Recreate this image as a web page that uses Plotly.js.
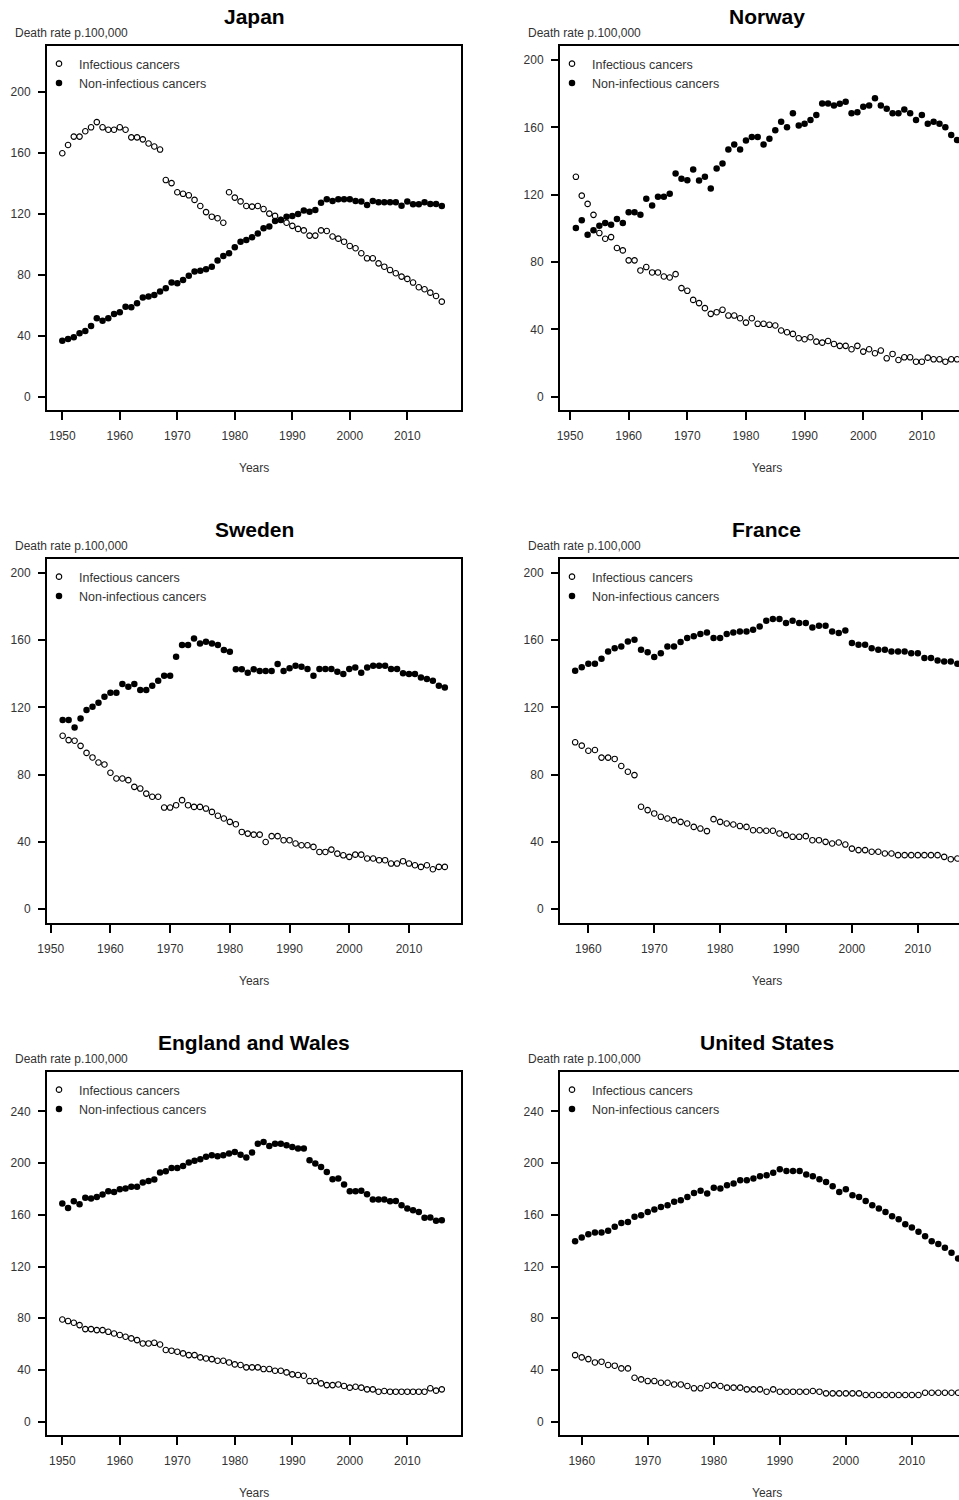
<!DOCTYPE html>
<html>
<head>
<meta charset="utf-8">
<script src="https://cdn.plot.ly/plotly-3.0.1.min.js"></script>
<style>
html, body { margin: 0; padding: 0; overflow: hidden; background: #fff; width: 959px; height: 1500px; }
#chart { width: 1000px; height: 1500px; }
</style>
</head>
<body>
<div id="chart"></div>
<script>
// ---------- DATA ----------
const years1950_2016 = [1950,1951,1952,1953,1954,1955,1956,1957,1958,1959,1960,1961,1962,1963,1964,1965,1966,1967,1968,1969,1970,1971,1972,1973,1974,1975,1976,1977,1978,1979,1980,1981,1982,1983,1984,1985,1986,1987,1988,1989,1990,1991,1992,1993,1994,1995,1996,1997,1998,1999,2000,2001,2002,2003,2004,2005,2006,2007,2008,2009,2010,2011,2012,2013,2014,2015,2016];
const years1951_2016 = [1951,1952,1953,1954,1955,1956,1957,1958,1959,1960,1961,1962,1963,1964,1965,1966,1967,1968,1969,1970,1971,1972,1973,1974,1975,1976,1977,1978,1979,1980,1981,1982,1983,1984,1985,1986,1987,1988,1989,1990,1991,1992,1993,1994,1995,1996,1997,1998,1999,2000,2001,2002,2003,2004,2005,2006,2007,2008,2009,2010,2011,2012,2013,2014,2015,2016];
const years1952_2016 = [1952,1953,1954,1955,1956,1957,1958,1959,1960,1961,1962,1963,1964,1965,1966,1967,1968,1969,1970,1971,1972,1973,1974,1975,1976,1977,1978,1979,1980,1981,1982,1983,1984,1985,1986,1987,1988,1989,1990,1991,1992,1993,1994,1995,1996,1997,1998,1999,2000,2001,2002,2003,2004,2005,2006,2007,2008,2009,2010,2011,2012,2013,2014,2015,2016];
const years1958_2016 = [1958,1959,1960,1961,1962,1963,1964,1965,1966,1967,1968,1969,1970,1971,1972,1973,1974,1975,1976,1977,1978,1979,1980,1981,1982,1983,1984,1985,1986,1987,1988,1989,1990,1991,1992,1993,1994,1995,1996,1997,1998,1999,2000,2001,2002,2003,2004,2005,2006,2007,2008,2009,2010,2011,2012,2013,2014,2015,2016];
const years1959_2017 = [1959,1960,1961,1962,1963,1964,1965,1966,1967,1968,1969,1970,1971,1972,1973,1974,1975,1976,1977,1978,1979,1980,1981,1982,1983,1984,1985,1986,1987,1988,1989,1990,1991,1992,1993,1994,1995,1996,1997,1998,1999,2000,2001,2002,2003,2004,2005,2006,2007,2008,2009,2010,2011,2012,2013,2014,2015,2016,2017];

const japanInf = [159.6,165,170.5,170.5,174,176.6,180,176.6,175,175,176.6,175,170,170,168.7,166,164,162,142,140,134,133,132,129,125,121,118,117,114,134,130.5,128,125,124.6,125,123,120,118.5,116,114,112,110,109,105.6,105.6,109,108.6,105,103.6,101.6,98.8,97.3,94,90.7,90.7,87.4,85.2,83,80.9,78.7,77.2,74.8,71.7,70.4,68.2,66,62.3];
const japanNon = [36.7,37.8,39,41.5,43,46.3,51.4,49.8,51.4,54.2,55.3,59,58.6,61.2,65,65.6,66.7,68.9,71,74.8,74.3,76.5,79.3,82,82.6,83.5,85.2,89.2,92.2,94,98,101.6,102.7,104.5,107,110.4,111.5,115.2,115.8,118,118.5,119.8,122,121.3,122.4,127.2,129.4,128.3,129.4,129.4,129.4,128.3,127.9,125.7,128.3,127.4,127.4,127.4,127.4,125.2,127.9,126.1,126.1,127.4,126.3,126.3,125];

const norwayInf = [130.6,119.4,114.5,108,97.2,93.8,94.8,88.3,86.9,81,81,75,77,73.8,73.8,71.4,70.8,72.8,64.5,62.9,57.5,55.6,52.6,49.2,50.2,51.6,48.2,48.2,46.6,44,46.6,43.3,43.3,42.7,42.3,39.3,38.3,37.3,34.7,34.1,35.3,32.7,32.1,33.1,31.3,30.2,30.2,28.2,30.2,26.8,28.2,25.8,27.4,22.8,25.4,21.8,23.4,23.4,20.8,20.8,23.2,22.2,22.2,20.8,22.2,22.2];
const norwayNon = [100.2,104.8,96.2,98.8,101.6,103.2,102.2,105.6,103.2,109.5,109.5,108,117.5,113.5,118.7,118.7,120.6,132.5,129.4,128.6,134.9,128.4,130.6,123.6,135.5,138.5,146.8,149.8,146.8,152.2,154.2,154.2,149.8,153.2,158.3,163.3,160.1,168.3,161.1,162.1,164.3,167.3,174.2,174.2,173,174,175.2,168.3,169,172.2,173,177.2,173,171,168.3,168.3,170.6,168.3,164.3,167.3,162.1,163.3,162.1,160.1,155.4,152.4];

const swedenInf = [103.2,100.6,100.2,97.2,93,90.3,87.3,86.1,81.2,77.8,77.8,76.8,72.8,71.8,68.8,66.9,66.9,60.5,60.5,61.9,64.9,61.9,60.9,60.9,59.9,57.9,55.6,54,52,50.6,46,45,44.4,44.4,40,43.5,43.5,41.1,41.1,39.1,38.1,38.1,37.1,34.1,34.1,35.5,33.1,32.1,31.2,32.5,32.5,30.2,30.2,29.2,29.2,27.2,27.2,28.6,27.2,26.2,25.2,26.2,23.8,25.2,25.2];
const swedenNon = [112.5,112.5,108.1,113.5,118.5,120.4,122.8,126.4,128.8,128.8,133.9,132.3,133.9,130.4,130.4,132.9,135.9,138.9,138.9,150.2,157.1,157.1,161.1,158.1,159.1,158.1,157.1,154.2,153.2,142.7,142.7,140.7,142.7,141.7,141.7,141.7,145.8,141.7,143.3,144.8,144.2,142.9,138.9,142.9,142.9,142.9,141.3,139.9,142.9,143.8,140.7,143.8,144.8,144.8,144.8,142.9,142.9,140.3,139.9,139.9,137.9,136.9,135.9,132.9,131.9];

const franceInf = [99.3,97.3,94.3,94.7,90.2,90.2,89.4,85.2,81.8,79.8,61,59,57,55,54,53,52,51,49,48,46.5,53.6,52,51,50.4,49.5,49,47,47,46.7,46.7,45.1,44.1,43.1,43.1,43.5,41.1,41.1,40.1,39.1,39.7,38.5,36.1,35.2,35.2,34.2,34.2,33.2,33.2,32.2,32.2,32.2,32.2,32.2,32.2,32.2,31.2,29.8,30.2];
const franceNon = [141.8,144,146,146,149,153.3,155.3,156.3,159.3,160.3,154.3,152.9,150,152.3,156.3,156.3,158.9,161.3,162.3,163.7,164.6,161.3,161.3,163.7,164.6,165.2,165.2,166.2,168.2,171.6,172.6,172.6,170.2,171.6,170.2,170.2,167.6,168.6,168.6,165.2,164.3,165.8,158.3,157.3,157.3,155.3,154.3,154.3,153.3,153.3,153.3,152.3,152.3,149.4,149.4,148,147.4,147.4,146];

const englandInf = [79,77.8,76.5,74.7,71.6,71.6,70.8,70.8,69.5,68.2,67,65.7,64.4,63.1,60.5,60.5,61,59.7,55.4,54.9,54.1,52.8,51.5,51.5,49.7,48.9,48.4,47.1,47.1,45.8,44.3,43.8,42,42,42,40.7,40.7,39.4,39.4,38.1,36.6,36.1,35.5,31.4,31.4,29.6,28.3,28.3,28.8,27.6,26.3,27,26.3,25,25,23.2,23.7,23.2,23.2,23.2,23.2,23.2,23.2,23.2,25.8,24,25];
const englandNon = [168.7,165.3,170.5,168.2,173.1,172.5,173.8,175.6,178.2,177.7,179.8,180.3,181.6,181.6,184.9,186.2,187.2,192.6,193.7,196.2,196.2,197.8,200.4,201.7,203,204.8,206,205.3,206,207.3,208.6,206.5,204.2,208.1,215,216.3,213.2,215,215,213.8,212.5,211.2,211.2,202.2,199.6,197,193.1,187.5,188,183.4,178.2,178.2,178.5,175.9,171.8,171.8,171.8,170.5,170.7,167.4,164.8,163.5,162.2,157.6,157.9,155.3,155.8];

const usInf = [51.5,49.7,48.4,45.8,46.4,43.8,43.3,41.2,41.2,34,32.7,31.4,31.4,30.1,30.1,28.8,28.8,27.6,25.8,25.8,27.8,28.3,27.6,26.3,26.3,26.3,25,25,25,23.2,25,23.2,23.2,23.2,23.2,23.2,23.7,23.2,21.9,21.9,21.9,21.9,21.9,21.9,20.6,20.6,20.6,20.6,20.6,20.6,20.6,20.6,20.6,22.4,22.4,22.4,22.4,22.4,22.4];
const usNon = [139.6,142.4,145,146.3,146.3,147.6,150.7,153.7,154.5,158.4,159.7,162.2,164,166.1,167.4,170,171.3,173.8,176.9,178.5,176.4,180.8,180.3,182.8,184.1,186.7,186.7,188,189.8,190.6,192.4,195.2,193.9,193.9,193.9,191.1,189.8,187.5,185.4,182.1,177.7,179.8,175.1,173.8,170.7,167.4,164.8,162.2,158.9,156.6,152.7,150.1,146.8,143.4,139.6,137.3,134.4,130.6,126.2];

const xTicksFrom1950 = [1950,1960,1970,1980,1990,2000,2010];
const xTicksFrom1960 = [1960,1970,1980,1990,2000,2010];
const yTicks200 = [0,40,80,120,160,200];
const yTicks240 = [0,40,80,120,160,200,240];

const seriesNames = ['Infectious cancers', 'Non-infectious cancers'];
const yLabel = 'Death rate p.100,000';
const xLabel = 'Years';

// ---------- LAYOUT GEOMETRY ----------
const W = 1000, H = 1500;
const cols = [[47, 461], [560, 973.5]];
const rows = [[46, 410], [559, 923], [1072, 1435]];

const panels = [
  {title: 'Japan',             x: years1950_2016, inf: japanInf,   non: japanNon,   c: 0, r: 0, xr: [1947.34, 2019.34], yr: [-8.75, 229.9], xt: xTicksFrom1950, yt: yTicks200},
  {title: 'Norway',            x: years1951_2016, inf: norwayInf,  non: norwayNon,  c: 1, r: 0, xr: [1948.29, 2018.8],  yr: [-7.9, 208.3],  xt: xTicksFrom1950, yt: yTicks200},
  {title: 'Sweden',            x: years1952_2016, inf: swedenInf,  non: swedenNon,  c: 0, r: 1, xr: [1949.38, 2018.71], yr: [-8.15, 208.3], xt: xTicksFrom1950, yt: yTicks200},
  {title: 'France',            x: years1958_2016, inf: franceInf,  non: franceNon,  c: 1, r: 1, xr: [1955.7, 2018.45],  yr: [-8.15, 208.3], xt: xTicksFrom1960, yt: yTicks200},
  {title: 'England and Wales', x: years1950_2016, inf: englandInf, non: englandNon, c: 0, r: 2, xr: [1947.34, 2019.34], yr: [-10.3, 270.4], xt: xTicksFrom1950, yt: yTicks240},
  {title: 'United States',     x: years1959_2017, inf: usInf,      non: usNon,      c: 1, r: 2, xr: [1956.71, 2019.33], yr: [-10.3, 270.4], xt: xTicksFrom1960, yt: yTicks240}
];

const FONT = 'Liberation Sans, Arial, Helvetica, sans-serif';
const TXT = '#333333';

const traces = [];
const layout = {
  width: W, height: H,
  margin: {l: 0, r: 0, t: 0, b: 0},
  paper_bgcolor: '#ffffff', plot_bgcolor: '#ffffff',
  font: {family: FONT, size: 12, color: TXT},
  showlegend: true,
  annotations: []
};

panels.forEach((p, i) => {
  const n = i + 1;
  const xa = 'xaxis' + (n === 1 ? '' : n), ya = 'yaxis' + (n === 1 ? '' : n);
  const xref = 'x' + (n === 1 ? '' : n), yref = 'y' + (n === 1 ? '' : n);
  const lg = 'legend' + (n === 1 ? '' : n);
  const [L, R] = cols[p.c];
  const [T, B] = rows[p.r];

  layout[xa] = {
    domain: [L / W, R / W], range: p.xr, anchor: yref,
    showgrid: false, zeroline: false,
    showline: true, linecolor: '#000', linewidth: 2, mirror: true,
    ticks: 'outside', ticklen: 8, tickwidth: 1.5, tickcolor: '#000',
    tickmode: 'array', tickvals: p.xt, ticktext: p.xt.map(String),
    ticklabelstandoff: 6,
    tickfont: {family: FONT, size: 12, color: TXT}
  };
  layout[ya] = {
    domain: [1 - B / H, 1 - T / H], range: p.yr, anchor: xref,
    showgrid: false, zeroline: false,
    showline: true, linecolor: '#000', linewidth: 2, mirror: true,
    ticks: 'outside', ticklen: 7, tickwidth: 1.5, tickcolor: '#000',
    tickmode: 'array', tickvals: p.yt, ticktext: p.yt.map(String),
    ticklabelstandoff: 5,
    tickfont: {family: FONT, size: 12, color: TXT}
  };
  layout[lg] = {
    x: (L - 8) / W, y: 1 - (T + 3) / H, xanchor: 'left', yanchor: 'top',
    xref: 'paper', yref: 'paper',
    bgcolor: 'rgba(0,0,0,0)', borderwidth: 0,
    font: {family: FONT, size: 12.5, color: TXT},
    itemwidth: 30, tracegroupgap: 0, itemclick: false, itemdoubleclick: false
  };

  traces.push({
    type: 'scatter', mode: 'markers', x: p.x, y: p.inf,
    xaxis: xref, yaxis: yref, name: seriesNames[0], legend: lg,
    marker: {symbol: 'circle-open', size: 5.5, color: '#000', line: {width: 1.1, color: '#000'}},
    hoverinfo: 'x+y'
  });
  traces.push({
    type: 'scatter', mode: 'markers', x: p.x, y: p.non,
    xaxis: xref, yaxis: yref, name: seriesNames[1], legend: lg,
    marker: {symbol: 'circle', size: 6.5, color: '#000', line: {width: 0}},
    hoverinfo: 'x+y'
  });

  const cx = (L + R) / 2;
  layout.annotations.push({
    text: p.title, xref: 'paper', yref: 'paper', x: cx / W, y: 1 - (T - 30) / H,
    xanchor: 'center', yanchor: 'middle', showarrow: false,
    font: {family: FONT, size: 21, color: '#000', weight: 'bold'}
  });
  layout.annotations.push({
    text: yLabel, xref: 'paper', yref: 'paper', x: (L - 34) / W, y: 1 - (T - 13) / H,
    xanchor: 'left', yanchor: 'middle', showarrow: false,
    font: {family: FONT, size: 12, color: TXT}
  });
  layout.annotations.push({
    text: xLabel, xref: 'paper', yref: 'paper', x: cx / W, y: 1 - (B + 58) / H,
    xanchor: 'center', yanchor: 'middle', showarrow: false,
    font: {family: FONT, size: 12, color: TXT}
  });
});

Plotly.newPlot('chart', traces, layout, {displayModeBar: false, responsive: false, staticPlot: false});
</script>
</body>
</html>
